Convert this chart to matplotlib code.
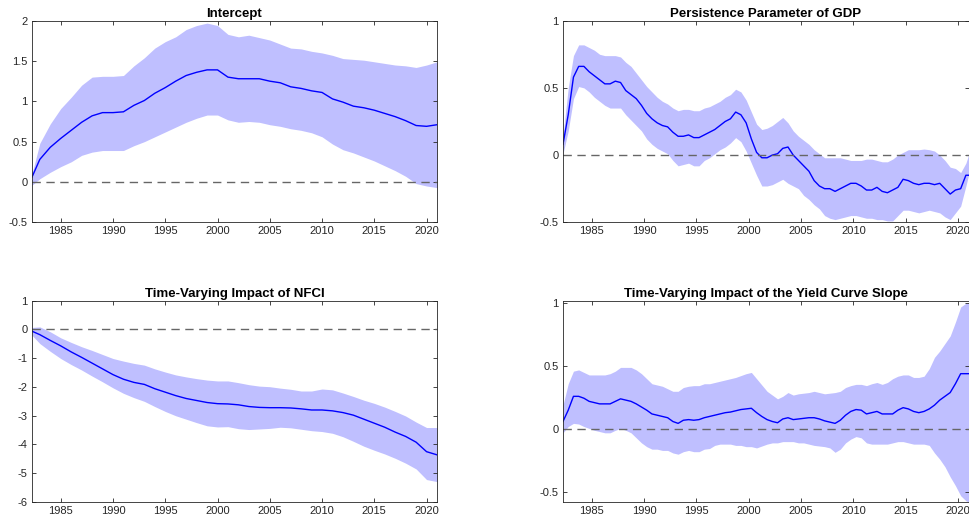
import matplotlib.pyplot as plt
import numpy as np

# time grids (annual for the smooth panels, half-yearly for the wiggly ones)
years_a = [1982.25] + list(range(1983, 2022))
years_h = list(np.arange(1982.25, 2020.8, 0.5)) + [2021.0]

# Intercept
int_mean = [0.06, 0.28, 0.43, 0.54, 0.64, 0.74, 0.82, 0.86, 0.86, 0.87,
            0.95, 1.01, 1.10, 1.17, 1.25, 1.32, 1.36, 1.39, 1.39, 1.30,
            1.28, 1.28, 1.28, 1.25, 1.23, 1.18, 1.16, 1.13, 1.11, 1.03,
            0.99, 0.94, 0.92, 0.89, 0.85, 0.81, 0.76, 0.70, 0.69, 0.71]
int_upper = [0.10, 0.48, 0.72, 0.91, 1.05, 1.20, 1.30, 1.31, 1.31, 1.32,
             1.44, 1.54, 1.66, 1.74, 1.80, 1.89, 1.94, 1.97, 1.94, 1.83,
             1.80, 1.82, 1.79, 1.76, 1.71, 1.66, 1.65, 1.62, 1.60, 1.57,
             1.53, 1.52, 1.51, 1.49, 1.47, 1.45, 1.44, 1.42, 1.45, 1.49]
int_lower = [-0.04, 0.04, 0.12, 0.19, 0.25, 0.33, 0.37, 0.39, 0.39, 0.39,
             0.45, 0.50, 0.56, 0.62, 0.68, 0.74, 0.79, 0.83, 0.83, 0.77,
             0.74, 0.75, 0.74, 0.71, 0.69, 0.66, 0.64, 0.61, 0.56, 0.47,
             0.40, 0.36, 0.31, 0.26, 0.20, 0.14, 0.07, -0.02, -0.05, -0.07]

# Persistence parameter of GDP
gdp_mean = [0.08, 0.30, 0.58, 0.66, 0.66, 0.62, 0.59, 0.56, 0.53, 0.53,
            0.55, 0.54, 0.48, 0.45, 0.42, 0.37, 0.31, 0.27, 0.24, 0.22,
            0.21, 0.17, 0.14, 0.14, 0.15, 0.13, 0.13, 0.15, 0.17, 0.19,
            0.22, 0.25, 0.27, 0.32, 0.30, 0.24, 0.12, 0.02, -0.02, -0.02,
            0.00, 0.01, 0.05, 0.06, 0.00, -0.04, -0.08, -0.12, -0.19, -0.23,
            -0.25, -0.25, -0.27, -0.25, -0.23, -0.21, -0.21, -0.23, -0.26, -0.26,
            -0.24, -0.27, -0.28, -0.26, -0.24, -0.18, -0.19, -0.21, -0.22, -0.21,
            -0.21, -0.22, -0.21, -0.25, -0.29, -0.26, -0.25, -0.15, -0.15]
gdp_upper = [0.14, 0.50, 0.74, 0.82, 0.82, 0.80, 0.78, 0.75, 0.74, 0.74,
             0.74, 0.73, 0.69, 0.66, 0.61, 0.56, 0.51, 0.47, 0.43, 0.40,
             0.38, 0.35, 0.33, 0.34, 0.34, 0.33, 0.33, 0.35, 0.36, 0.38,
             0.40, 0.43, 0.45, 0.49, 0.47, 0.41, 0.32, 0.23, 0.19, 0.20,
             0.22, 0.25, 0.28, 0.24, 0.18, 0.14, 0.11, 0.08, 0.04, 0.01,
             -0.02, -0.02, -0.02, -0.02, -0.03, -0.04, -0.04, -0.04, -0.03, -0.03,
             -0.04, -0.05, -0.05, -0.03, 0.00, 0.02, 0.04, 0.04, 0.04, 0.045,
             0.04, 0.03, 0.00, -0.04, -0.09, -0.10, -0.13, -0.06, 0.00]
gdp_lower = [0.01, 0.18, 0.42, 0.51, 0.50, 0.47, 0.43, 0.40, 0.37, 0.35,
             0.35, 0.35, 0.30, 0.26, 0.22, 0.18, 0.12, 0.08, 0.05, 0.03,
             0.01, -0.04, -0.08, -0.07, -0.06, -0.08, -0.08, -0.04, -0.02, 0.01,
             0.04, 0.06, 0.09, 0.13, 0.10, 0.03, -0.06, -0.15, -0.23, -0.23,
             -0.22, -0.20, -0.18, -0.21, -0.23, -0.25, -0.30, -0.33, -0.37, -0.40,
             -0.45, -0.47, -0.48, -0.47, -0.46, -0.45, -0.45, -0.46, -0.47, -0.47,
             -0.48, -0.48, -0.49, -0.49, -0.45, -0.41, -0.41, -0.42, -0.43, -0.42,
             -0.41, -0.42, -0.43, -0.46, -0.48, -0.43, -0.38, -0.23, -0.15]

# NFCI impact
nfci_mean = [-0.06, -0.18, -0.38, -0.57, -0.78, -0.97, -1.17, -1.37, -1.57, -1.73,
             -1.84, -1.91, -2.06, -2.18, -2.30, -2.40, -2.47, -2.54, -2.58, -2.59,
             -2.62, -2.68, -2.71, -2.72, -2.72, -2.73, -2.76, -2.80, -2.80, -2.83,
             -2.89, -2.98, -3.12, -3.26, -3.40, -3.57, -3.72, -3.92, -4.25, -4.36]
nfci_upper = [0.07, 0.09, -0.08, -0.29, -0.45, -0.60, -0.73, -0.87, -1.01, -1.10,
              -1.18, -1.24, -1.37, -1.48, -1.58, -1.65, -1.71, -1.76, -1.79, -1.79,
              -1.85, -1.92, -1.97, -1.99, -2.04, -2.08, -2.14, -2.14, -2.07, -2.10,
              -2.21, -2.33, -2.46, -2.57, -2.70, -2.85, -3.01, -3.22, -3.41, -3.41]
nfci_lower = [-0.20, -0.49, -0.76, -1.01, -1.22, -1.41, -1.62, -1.82, -2.03, -2.22,
              -2.37, -2.50, -2.68, -2.85, -3.00, -3.12, -3.24, -3.35, -3.39, -3.38,
              -3.45, -3.48, -3.46, -3.44, -3.40, -3.42, -3.47, -3.52, -3.55, -3.61,
              -3.73, -3.89, -4.06, -4.20, -4.33, -4.48, -4.65, -4.85, -5.22, -5.29]

# Yield curve slope impact
ycs_mean = [0.06, 0.15, 0.26, 0.26, 0.245, 0.22, 0.21, 0.20, 0.20, 0.20,
            0.22, 0.24, 0.23, 0.22, 0.20, 0.175, 0.15, 0.12, 0.11, 0.10,
            0.09, 0.06, 0.045, 0.07, 0.075, 0.07, 0.075, 0.09, 0.10, 0.11,
            0.12, 0.13, 0.135, 0.145, 0.155, 0.16, 0.165, 0.13, 0.10, 0.075,
            0.06, 0.05, 0.08, 0.09, 0.075, 0.08, 0.085, 0.09, 0.09, 0.08,
            0.065, 0.055, 0.045, 0.07, 0.11, 0.14, 0.155, 0.15, 0.12, 0.13,
            0.14, 0.12, 0.12, 0.12, 0.15, 0.17, 0.16, 0.14, 0.13, 0.14,
            0.16, 0.19, 0.23, 0.26, 0.29, 0.36, 0.44, 0.44, 0.44]
ycs_upper = [0.19, 0.36, 0.46, 0.47, 0.45, 0.43, 0.43, 0.43, 0.43, 0.44,
             0.46, 0.49, 0.49, 0.49, 0.47, 0.44, 0.40, 0.36, 0.35, 0.34,
             0.32, 0.30, 0.30, 0.33, 0.34, 0.345, 0.345, 0.36, 0.36, 0.37,
             0.38, 0.39, 0.40, 0.41, 0.425, 0.44, 0.45, 0.40, 0.35, 0.30,
             0.27, 0.24, 0.26, 0.29, 0.27, 0.28, 0.285, 0.29, 0.30, 0.29,
             0.28, 0.285, 0.29, 0.30, 0.33, 0.345, 0.355, 0.355, 0.345, 0.36,
             0.37, 0.355, 0.37, 0.40, 0.42, 0.43, 0.43, 0.41, 0.41, 0.42,
             0.48, 0.57, 0.62, 0.68, 0.74, 0.85, 0.97, 1.00, 1.00]
ycs_lower = [-0.03, 0.02, 0.045, 0.04, 0.02, 0.005, -0.01, -0.02, -0.03, -0.03,
             -0.01, 0.005, -0.01, -0.03, -0.07, -0.11, -0.14, -0.16, -0.16, -0.17,
             -0.17, -0.19, -0.20, -0.18, -0.17, -0.18, -0.18, -0.16, -0.155, -0.13,
             -0.12, -0.12, -0.12, -0.13, -0.13, -0.14, -0.14, -0.15, -0.135, -0.12,
             -0.11, -0.11, -0.10, -0.10, -0.10, -0.11, -0.11, -0.12, -0.13, -0.135,
             -0.14, -0.15, -0.185, -0.16, -0.11, -0.08, -0.06, -0.07, -0.11, -0.12,
             -0.12, -0.12, -0.12, -0.11, -0.10, -0.10, -0.11, -0.12, -0.12, -0.12,
             -0.13, -0.19, -0.24, -0.30, -0.38, -0.45, -0.53, -0.57, -0.58]

plt.rcParams['font.family'] = ['Liberation Sans', 'DejaVu Sans']

fig = plt.figure(figsize=(9.69, 5.25), dpi=100)

panels = [
    ("Intercept", years_a, int_mean, int_upper, int_lower,
     [0.033, 0.5766, 0.418, 0.384], (-0.5, 2), np.arange(-0.5, 2.01, 0.5)),
    ("Persistence Parameter of GDP", years_h, gdp_mean, gdp_upper, gdp_lower,
     [0.581, 0.5766, 0.4185, 0.384], (-0.5, 1), np.arange(-0.5, 1.01, 0.5)),
    ("Time-Varying Impact of NFCI", years_a, nfci_mean, nfci_upper, nfci_lower,
     [0.033, 0.0438, 0.418, 0.3834], (-6, 1), np.arange(-6, 1.01, 1)),
    ("Time-Varying Impact of the Yield Curve Slope", years_h, ycs_mean, ycs_upper, ycs_lower,
     [0.581, 0.0438, 0.4185, 0.3834], (-0.58, 1.02), np.arange(-0.5, 1.01, 0.5)),
]

for title, yrs, mean, upper, lower, pos, ylim, yticks in panels:
    ax = fig.add_axes(pos)
    ax.fill_between(yrs, lower, upper, color='#bfbfff', linewidth=0)
    ax.plot(yrs, mean, color='#0000ff', linewidth=1.0)
    ax.axhline(0, color='#666666', linestyle=(0, (6, 4)), linewidth=1.0)
    ax.set_xlim(1982.25, 2021)
    ax.set_ylim(*ylim)
    ax.set_xticks(range(1985, 2021, 5))
    ax.set_yticks(yticks)
    ax.set_yticklabels(['%g' % round(t, 2) for t in yticks])
    ax.tick_params(direction='in', length=3, width=0.6, labelsize=8,
                   colors='#262626', top=True, right=True, pad=3)
    for s in ax.spines.values():
        s.set_linewidth(0.6)
        s.set_color('#262626')
    ax.set_title(title, fontsize=9.5, fontweight='bold', pad=3)

fig.savefig('out.png', dpi=100)
